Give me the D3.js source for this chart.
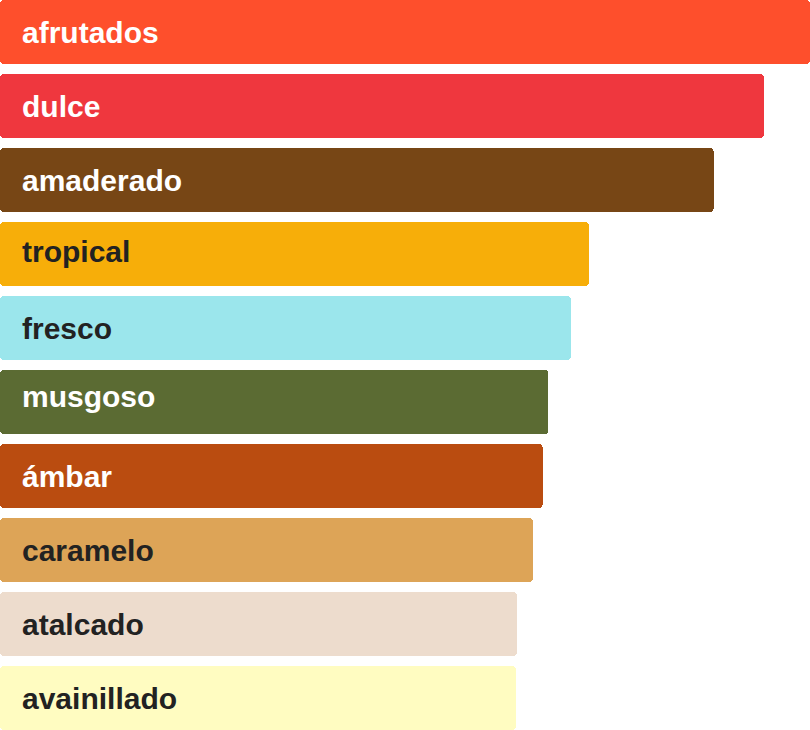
<!DOCTYPE html>
<html lang="es">
<head>
    <meta charset="UTF-8">
    <title>aromas</title>
    <script src="https://d3js.org/d3.v7.min.js"></script>
    <style>
        html, body { margin: 0; padding: 0; background: #fff; overflow: hidden; }
        svg { display: block; }
    </style>
</head>
<body>
    <div class="canvas"></div>
    <script>
        // datos
        const categories = ['afrutados', 'dulce', 'amaderado', 'tropical', 'fresco',
                            'musgoso', 'ámbar', 'caramelo', 'atalcado', 'avainillado'];
        const values = [100, 94.3, 88.1, 72.7, 70.5, 67.7, 67.0, 65.8, 63.8, 63.7];
        const colors = ['#FE4F2C', '#EF373E', '#774615', '#F7AE09', '#9BE6EC',
                        '#5B6B33', '#BA4C10', '#DDA457', '#EDDCCD', '#FFFCC1'];

        const width = 810;
        const height = 730;
        const fontSize = 30;
        const font = `bold ${fontSize}px "Liberation Sans", Arial, sans-serif`;

        const data = categories.map((c, i) => ({ name: c, value: values[i], color: colors[i] }));

        const svg = d3.select('.canvas')
            .append('svg')
            .attr('width', width)
            .attr('height', height);

        const y = d3.scaleBand()
            .domain(categories)
            .range([0, height])
            .paddingInner(10 / 74)
            .paddingOuter(0);

        const x = d3.scaleLinear()
            .domain([0, d3.max(values)])
            .range([0, width]);

        // texto claro u oscuro segun el color de la barra
        const textColor = c => d3.lab(c).l > 65 ? '#222' : '#fff';

        // centrar la etiqueta por la tinta real del texto
        const ctx = document.createElement('canvas').getContext('2d');
        ctx.font = font;
        const inkOffset = s => {
            const m = ctx.measureText(s);
            return (m.actualBoundingBoxAscent - m.actualBoundingBoxDescent) / 2;
        };

        svg.selectAll('rect')
            .data(data)
            .enter()
            .append('rect')
            .attr('x', 0)
            .attr('y', d => y(d.name))
            .attr('width', d => x(d.value))
            .attr('height', y.bandwidth())
            .attr('rx', 4)
            .attr('ry', 4)
            .attr('shape-rendering', 'crispEdges')
            .attr('fill', d => d.color);

        svg.selectAll('text')
            .data(data)
            .enter()
            .append('text')
            .attr('x', 22)
            .attr('y', d => y(d.name) + y.bandwidth() / 2 + inkOffset(d.name))
            .style('font', font)
            .attr('fill', d => textColor(d.color))
            .text(d => d.name);
    </script>
</body>
</html>
